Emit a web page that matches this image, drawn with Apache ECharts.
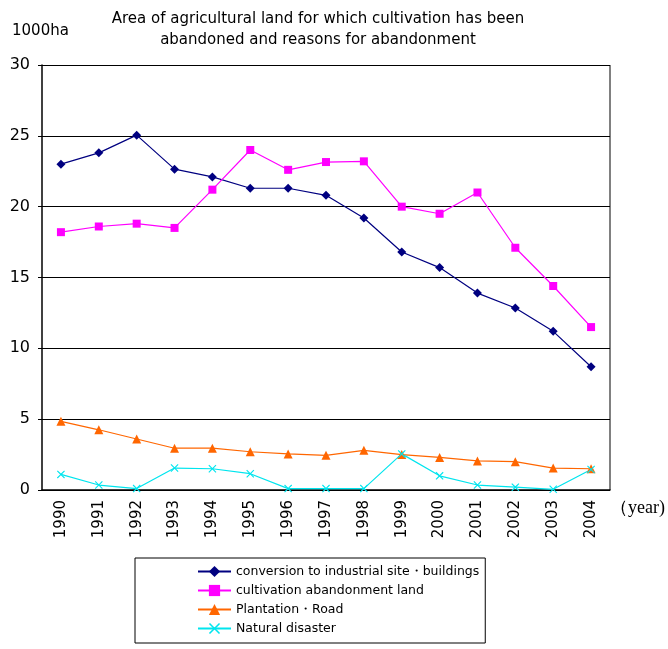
<!DOCTYPE html>
<html>
<head>
<meta charset="utf-8">
<script src="https://cdn.jsdelivr.net/npm/echarts@6/dist/echarts.min.js"></script>
<style>
  html, body { margin: 0; padding: 0; background: #fff; }
  #chart { width: 668px; height: 649px; }
</style>
</head>
<body>
<div id="chart"></div>
<script>
// years on the x axis
const years = ["1990", "1991", "1992", "1993", "1994", "1995", "1996", "1997",
  "1998", "1999", "2000", "2001", "2002", "2003", "2004"];

// 1000ha
const industrial = [23.0, 23.8, 25.05, 22.65, 22.1, 21.3, 21.3, 20.8, 19.2, 16.8, 15.7, 13.9, 12.85, 11.2, 8.7];
const abandonment = [18.2, 18.6, 18.8, 18.5, 21.2, 24.0, 22.6, 23.15, 23.2, 20.0, 19.5, 21.0, 17.1, 14.4, 11.5];
const plantation = [4.85, 4.25, 3.6, 2.95, 2.95, 2.7, 2.55, 2.45, 2.8, 2.5, 2.3, 2.05, 2.0, 1.55, 1.5];
const disaster = [1.1, 0.35, 0.1, 1.55, 1.5, 1.15, 0.1, 0.1, 0.1, 2.55, 1.0, 0.35, 0.2, 0.05, 1.45];

const seriesNames = [
  "conversion to industrial site\u30fbbuildings",
  "cultivation abandonment land",
  "Plantation\u30fbRoad",
  "Natural disaster"
];

const font = "'DejaVu Sans', sans-serif";
const crossPath = "path://M0,1L1,0L5,4L9,0L10,1L6,5L10,9L9,10L5,6L1,10L0,9L4,5Z";

let myChart = echarts.init(document.getElementById("chart"));

function line(name, data, color, symbol, size) {
  return {
    name: name,
    type: "line",
    data: data,
    symbol: symbol,
    symbolSize: size,
    showAllSymbol: true,
    lineStyle: { color: color, width: 1.2 },
    itemStyle: { color: color },
    animation: false
  };
}

let option = {
  backgroundColor: "#fff",
  title: {
    text: "Area of agricultural land for which cultivation has been\nabandoned and reasons for abandonment",
    left: 313,
    top: 4,
    textAlign: "center",
    textStyle: { fontFamily: font, fontSize: 15, fontWeight: "normal", color: "#000", lineHeight: 21 }
  },
  graphic: [
    { type: "text", left: 12, top: 24, style: { text: "1000ha", font: "15px " + font, fill: "#000" } },
    { type: "text", left: 610, top: 499, style: { text: "\uff08year)", font: "18px 'Liberation Serif', serif", fill: "#000" } },
    // right frame of the plot area
    { type: "line", shape: { x1: 610, y1: 65, x2: 610, y2: 490 }, style: { stroke: "#808080", lineWidth: 2 } }
  ],
  legend: {
    orient: "vertical",
    left: 135,
    top: 558,
    padding: [7, 6, 8, 62],
    itemGap: 6,
    itemWidth: 33,
    itemHeight: 14,
    borderColor: "#000",
    borderWidth: 1,
    textStyle: { fontFamily: font, fontSize: 12.5, color: "#000" },
    data: seriesNames
  },
  grid: { left: 42, right: 58, top: 65, bottom: 159 },
  xAxis: {
    type: "category",
    data: years,
    boundaryGap: true,
    axisLine: { lineStyle: { color: "#000", width: 1.5 } },
    axisTick: { inside: true, length: 6, lineStyle: { color: "#000" } },
    axisLabel: { rotate: 90, color: "#000", fontFamily: font, fontSize: 15, margin: 10 }
  },
  yAxis: {
    type: "value",
    min: 0,
    max: 30,
    interval: 5,
    axisLine: { show: true, lineStyle: { color: "#000", width: 1.5 } },
    axisTick: { show: true, length: 4, lineStyle: { color: "#000" } },
    axisLabel: { color: "#000", fontFamily: font, fontSize: 16, margin: 12 },
    splitLine: { lineStyle: { color: "#000", width: 1 } }
  },
  series: [
    line(seriesNames[0], industrial, "#000080", "diamond", 9),
    line(seriesNames[1], abandonment, "#ff00ff", "rect", 8),
    line(seriesNames[2], plantation, "#ff6600", "triangle", 9),
    line(seriesNames[3], disaster, "#00e5ee", crossPath, 8)
  ]
};
myChart.setOption(option);
</script>
</body>
</html>
